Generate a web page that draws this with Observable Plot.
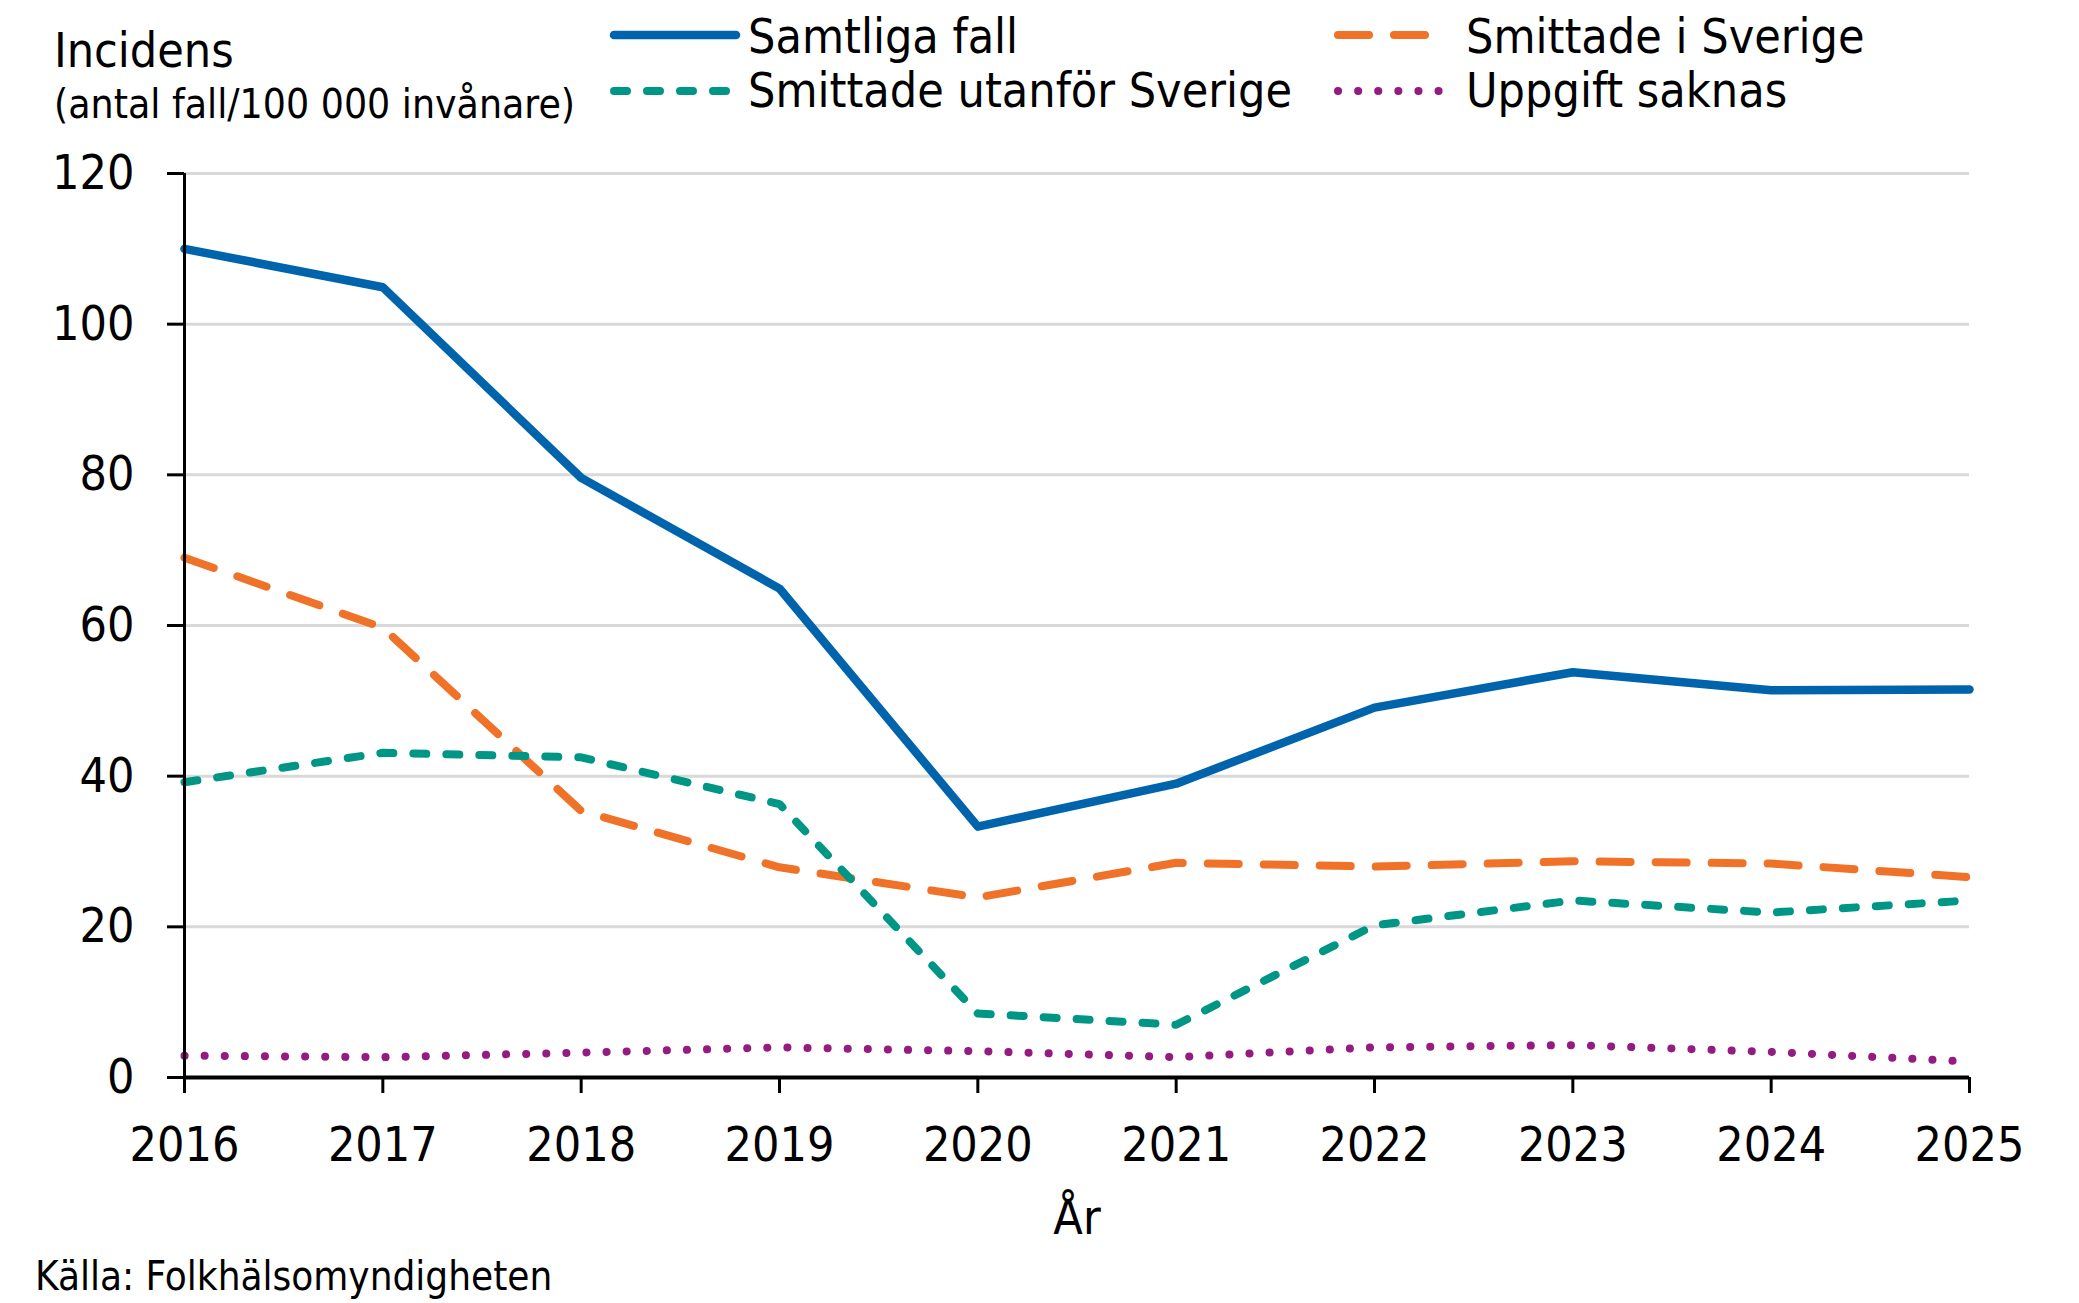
<!DOCTYPE html>
<html>
<head>
<meta charset="utf-8">
<script src="https://cdn.jsdelivr.net/npm/d3@7"></script>
<script src="https://cdn.jsdelivr.net/npm/@observablehq/plot@0.6"></script>
<style>
  html, body { margin: 0; padding: 0; background: #fff; }
  #wrap { width: 2079px; height: 1303px; position: relative; }
  svg text { font-family: "DejaVu Sans Condensed", "DejaVu Sans", sans-serif; font-stretch: condensed; }
</style>
</head>
<body>
<div id="wrap"></div>
<script>
// ---- data ----
const years = [2016, 2017, 2018, 2019, 2020, 2021, 2022, 2023, 2024, 2025];
const yTicks = [0, 20, 40, 60, 80, 100, 120];
const seriesNames = ["Samtliga fall", "Smittade i Sverige", "Smittade utanför Sverige", "Uppgift saknas"];
const samtliga = [110.0, 104.9, 79.6, 64.9, 33.3, 39.0, 49.1, 53.8, 51.4, 51.5];
const sverige  = [69.0, 59.7, 35.4, 27.9, 23.9, 28.5, 28.0, 28.7, 28.4, 26.6];
const utanfor  = [39.2, 43.1, 42.5, 36.3, 8.5, 7.0, 20.2, 23.5, 21.9, 23.5];
const saknas   = [2.9, 2.7, 3.3, 4.0, 3.5, 2.7, 4.0, 4.3, 3.4, 2.1];
const titleText = "Incidens";
const subtitleText = "(antal fall/100 000 invånare)";
const xLabelText = "År";
const captionText = "Källa: Folkhälsomyndigheten";

// ---- styles ----
const colors = ["#0064ad", "#ef7228", "#009685", "#951b81"];
const dashes = [null, "31,25", "13,20", "0.1,20"];
const widths = [8.5, 8, 8, 8];
const FONT = "'DejaVu Sans Condensed', 'DejaVu Sans', sans-serif";

const values = [samtliga, sverige, utanfor, saknas];
const rowsOf = (k) => years.map((yr, i) => ({year: yr, value: values[k][i], series: seriesNames[k]}));

const wrap = d3.select("#wrap");

// ---- header (title + legend) ----
const headerH = 140;
const header = wrap.append("svg").attr("width", 2079).attr("height", headerH).style("display", "block");
header.append("text").attr("x", 54).attr("y", 67).attr("font-size", 48).attr("fill", "#000").text(titleText);
header.append("text").attr("x", 54).attr("y", 118).attr("font-size", 40.5).attr("fill", "#000").text(subtitleText);

const legendPos = [
  {x1: 614, x2: 736, y: 35, tx: 748, ty: 53},
  {x1: 1338, x2: 1442, y: 35, tx: 1466, ty: 53},
  {x1: 614, x2: 736, y: 91, tx: 748, ty: 107},
  {x1: 1338, x2: 1442, y: 91, tx: 1466, ty: 107}
];
seriesNames.forEach((name, k) => {
  const p = legendPos[k];
  const ln = header.append("line")
    .attr("x1", p.x1).attr("x2", p.x2).attr("y1", p.y).attr("y2", p.y)
    .attr("stroke", colors[k]).attr("stroke-width", widths[k])
    .attr("stroke-linecap", "round");
  if (dashes[k]) ln.attr("stroke-dasharray", dashes[k]);
  header.append("text").attr("x", p.tx).attr("y", p.ty).attr("font-size", 48).attr("fill", "#000").text(name);
});

// ---- plot ----
const plotH = 1110;
const lineMarks = [0, 1, 2, 3].map(k => Plot.lineY(rowsOf(k), {
  x: "year", y: "value",
  stroke: colors[k], strokeWidth: widths[k],
  strokeDasharray: dashes[k] || undefined,
  strokeLinecap: "round", strokeLinejoin: "round"
}));

const chart = Plot.plot({
  width: 2079,
  height: plotH,
  marginLeft: 184,
  marginRight: 110,
  marginTop: 33,
  marginBottom: 173,
  style: {fontFamily: FONT, fontSize: "48px", fontStretch: "condensed", color: "#000", background: "#fff", overflow: "visible"},
  x: {domain: [2016, 2025], type: "linear"},
  y: {domain: [0, 120]},
  marks: [
    Plot.gridY(yTicks.filter(d => d > 0), {stroke: "#d9d9d9", strokeOpacity: 1, strokeWidth: 3}),
    ...lineMarks,
    Plot.ruleX([2016], {stroke: "#000", strokeWidth: 3}),
    Plot.ruleY([0], {stroke: "#000", strokeWidth: 4}),
    Plot.axisY({ticks: yTicks, tickSize: 17, tickPadding: 33, strokeWidth: 3, label: null, tickFormat: d => String(d)}),
    Plot.axisX({ticks: years, tickSize: 16, tickPadding: 33, strokeWidth: 3, label: null, tickFormat: d => String(d)}),
    Plot.text([xLabelText], {frameAnchor: "bottom", dy: 141, lineAnchor: "middle", fontSize: 48, fill: "#000"})
  ]
});
chart.style.display = "block";
wrap.node().appendChild(chart);

// ---- caption ----
const cap = wrap.append("svg").attr("width", 2079).attr("height", 1303 - headerH - plotH).style("display", "block");
cap.append("text").attr("x", 35).attr("y", 40).attr("font-size", 40).attr("fill", "#000").text(captionText);
</script>
</body>
</html>
